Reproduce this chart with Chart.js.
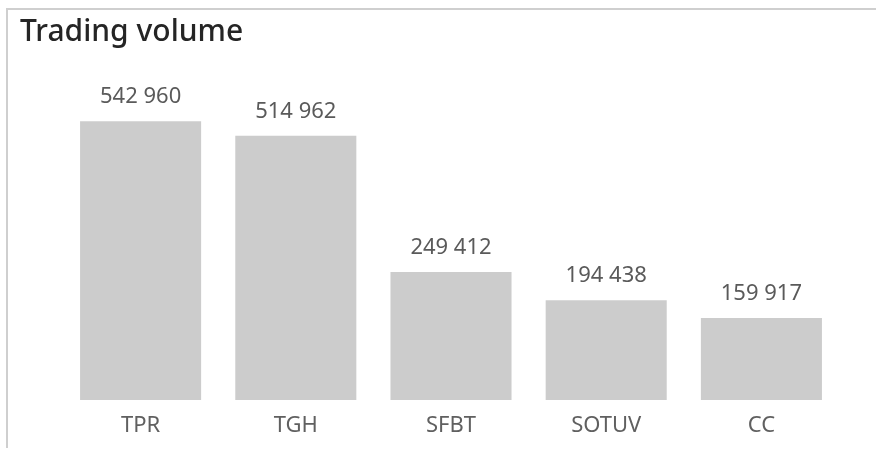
<!DOCTYPE html>
<html>

<head>
    <script src="https://cdn.jsdelivr.net/npm/chart.js@4.4.1/dist/chart.umd.min.js"></script>
    <style>
        body { margin: 0; background: #fff; }
        #wrap { position: relative; width: 876px; height: 450px; }
        #frame {
            position: absolute; left: 6px; top: 8px; right: 0; bottom: 2px;
            border-left: 2px solid #cfcfcf; border-top: 2px solid #cfcfcf;
        }
        #myChart { position: absolute; left: 0; top: 0; }
    </style>
</head>

<body>
    <div id="wrap">
        <div id="frame"></div>
        <canvas id="myChart" width="876" height="450"></canvas>
    </div>
</body>

<script>

    // 데이터
    const tickers = ['TPR', 'TGH', 'SFBT', 'SOTUV', 'CC']
    const volumes = [542960, 514962, 249412, 194438, 159917]

    const fmt = (v) => String(v).replace(/\B(?=(\d{3})+(?!\d))/g, ' ')

    // 막대 위에 값 표시
    const valueLabels = {
        id: 'valueLabels',
        afterDatasetsDraw(chart) {
            const ctx = chart.ctx
            const meta = chart.getDatasetMeta(0)
            ctx.save()
            ctx.font = '22px "Noto Sans"'
            ctx.fillStyle = '#5a5a5a'
            ctx.textAlign = 'center'
            ctx.textBaseline = 'alphabetic'
            meta.data.forEach((bar, i) => {
                ctx.fillText(fmt(volumes[i]), bar.x, bar.y - 18)
            })
            ctx.restore()
        }
    }

    const data = {
        labels: tickers,
        datasets: [{
            label: 'Trading volume',
            backgroundColor: '#cccccc',
            data: volumes,
            barPercentage: 0.78,
            categoryPercentage: 1.0
        }]
    }

    const config = {
        type: 'bar',
        data: data,
        plugins: [valueLabels],
        options: {
            responsive: false,
            animation: false,
            layout: { padding: { left: 20, right: 37, top: 0, bottom: 10 } },
            plugins: {
                legend: { display: false },
                tooltip: { enabled: false },
                title: {
                    display: true,
                    text: 'Trading volume',
                    align: 'start',
                    color: '#252525',
                    font: { family: '"Noto Sans"', size: 30, weight: '500' },
                    padding: { top: 14, bottom: 42 }
                }
            },
            scales: {
                x: {
                    grid: { display: false, drawTicks: false },
                    border: { display: false },
                    ticks: { color: '#606060', font: { family: '"Noto Sans"', size: 22 }, padding: 13 },
                    afterFit: (scale) => { scale.height = 40 }
                },
                y: {
                    min: 0,
                    max: 600000,
                    grid: { display: false, drawTicks: false },
                    border: { display: false },
                    ticks: { display: false },
                    afterFit: (scale) => { scale.width = 43 }
                }
            }
        }
    }

    const myChart = new Chart(document.getElementById('myChart'), config)

</script>

</html>
